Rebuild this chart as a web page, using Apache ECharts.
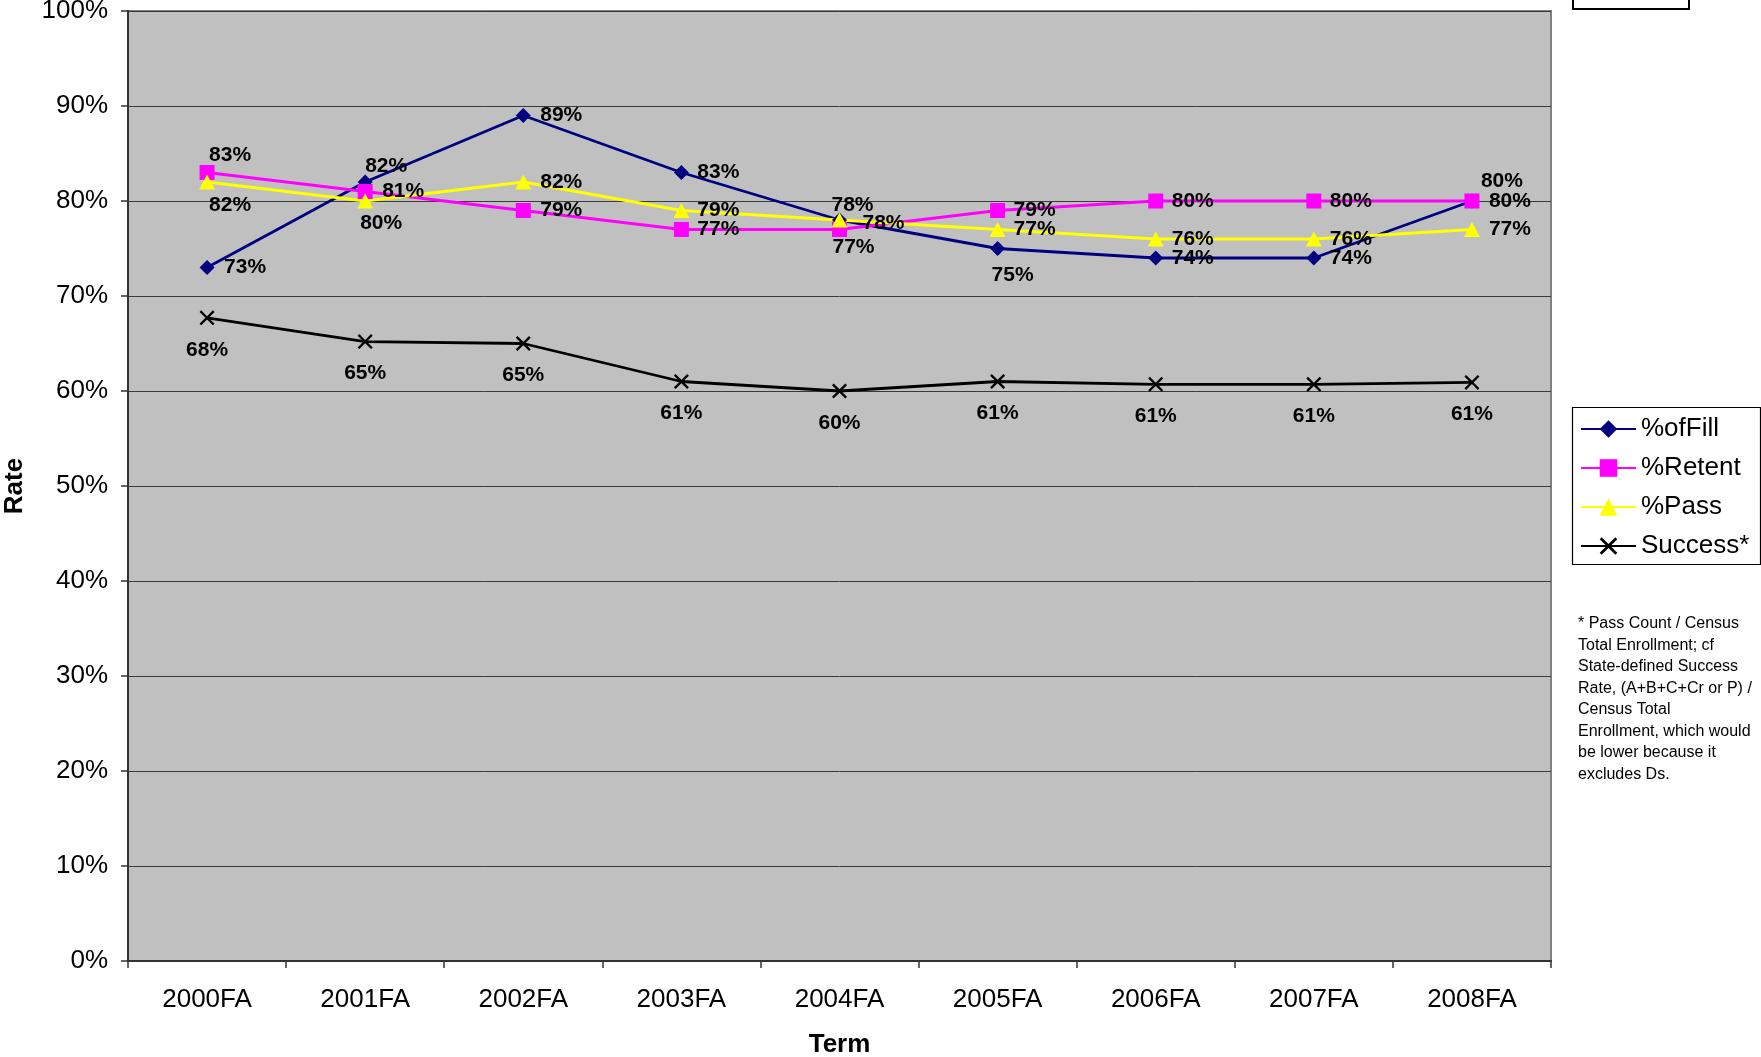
<!DOCTYPE html>
<html>
<head>
<meta charset="utf-8">
<script src="https://cdn.jsdelivr.net/npm/echarts@6/dist/echarts.min.js"></script>
<style>
html,body{margin:0;padding:0;background:#fff;}
#chart{width:1761px;height:1057px;}
</style>
</head>
<body>
<div id="chart"></div>
<script>
// ---- data ----
const categories = ['2000FA','2001FA','2002FA','2003FA','2004FA','2005FA','2006FA','2007FA','2008FA'];
const fillRate    = [73, 82, 89, 83, 78, 75, 74, 74, 80];
const retentRate  = [83, 81, 79, 77, 77, 79, 80, 80, 80];
const passRate    = [82, 80, 82, 79, 78, 77, 76, 76, 77];
const successRate = [67.7, 65.2, 65.0, 61.0, 60.0, 61.0, 60.7, 60.7, 60.9];
const seriesNames = ['%ofFill', '%Retent', '%Pass', 'Success*'];
const footnoteLines = [
  '* Pass Count / Census',
  'Total Enrollment; cf',
  'State-defined Success',
  'Rate, (A+B+C+Cr or P) /',
  'Census Total',
  'Enrollment, which would',
  'be lower because it',
  'excludes Ds.'
];

// ---- label placement (offsets of label centre from point, px) ----
const fillLabelOffsets    = [[38,0],[21,-16],[38,0],[37,0],[13,-15],[15,27],[37,0],[37,0],[30,-20]];
const retentLabelOffsets  = [[23,-17],[38,0],[38,0],[37,0],[14,18],[37,0],[37,0],[37,0],[38,0]];
const passLabelOffsets    = [[23,23],[16,22],[38,0],[37,0],[44,3],[37,0],[37,0],[37,0],[38,0]];
const successLabelOffsets = [[0,32],[0,32],[0,32],[0,32],[0,32],[0,32],[0,32],[0,32],[0,32]];

const FONT = 'Liberation Sans, Arial, Helvetica, sans-serif';
const crossPath = 'path://M0,1.1L1.1,0L5,3.9L8.9,0L10,1.1L6.1,5L10,8.9L8.9,10L5,6.1L1.1,10L0,8.9L3.9,5Z';

function build(values, offsets) {
  return values.map((v, i) => ({ value: v, label: { offset: offsets[i] } }));
}

const labelBase = {
  show: true,
  position: 'inside',
  color: '#000',
  fontFamily: FONT,
  fontSize: 21,
  fontWeight: 'bold',
  textBorderWidth: 0,
  formatter: p => Math.round(p.value) + '%'
};

function makeSeries(name, values, offsets, color, symbol, size) {
  return {
    name: name,
    type: 'line',
    data: build(values, offsets),
    symbol: symbol,
    symbolSize: size,
    showSymbol: true,
    showAllSymbol: true,
    lineStyle: { color: color, width: 2.8 },
    itemStyle: { color: color },
    label: labelBase,
    emphasis: { disabled: true }
  };
}

const chart = echarts.init(document.getElementById('chart'), null, { renderer: 'canvas' });

chart.setOption({
  animation: false,
  textStyle: { fontFamily: FONT },
  grid: {
    left: 128, right: 210, top: 11, bottom: 96,
    containLabel: false,
    outerBoundsMode: 'none',
    show: true,
    backgroundColor: '#c0c0c0',
    borderColor: '#808080',
    borderWidth: 2
  },
  xAxis: {
    type: 'category',
    data: categories,
    boundaryGap: true,
    name: 'Term',
    nameLocation: 'middle',
    nameGap: 71,
    nameTextStyle: { fontFamily: FONT, fontSize: 26, fontWeight: 'bold', color: '#000' },
    axisLine: { show: true, lineStyle: { color: '#333', width: 2 } },
    axisTick: { show: true, length: 7, lineStyle: { color: '#333', width: 1.5 } },
    axisLabel: { fontFamily: FONT, fontSize: 26, color: '#000', margin: 26 },
    splitLine: { show: false }
  },
  yAxis: {
    type: 'value',
    min: 0, max: 100, interval: 10,
    name: 'Rate',
    nameLocation: 'middle',
    nameGap: 100,
    nameRotate: 90,
    nameTextStyle: { fontFamily: FONT, fontSize: 26, fontWeight: 'bold', color: '#000' },
    axisLine: { show: true, lineStyle: { color: '#333', width: 2 } },
    axisTick: { show: true, length: 7, lineStyle: { color: '#333', width: 1.5 } },
    axisLabel: { fontFamily: FONT, fontSize: 26, color: '#000', margin: 20, formatter: '{value}%' },
    splitLine: { show: true, lineStyle: { color: '#3a3a3a', width: 1 } }
  },
  legend: {
    orient: 'vertical',
    left: 1580,
    top: 416,
    padding: 0,
    itemWidth: 55,
    itemHeight: 22,
    itemGap: 13,
    data: seriesNames,
    textStyle: { fontFamily: FONT, fontSize: 26, color: '#000', lineHeight: 26, padding: [0, 0, 0, 0] },
    selectedMode: false
  },
  graphic: [
    { type: 'rect', z: 100, shape: { x: 1573, y: -20, width: 116, height: 29 },
      style: { fill: '#fff', stroke: '#000', lineWidth: 2 } },
    { type: 'rect', z: -1, shape: { x: 1572.5, y: 407.5, width: 188, height: 157 },
      style: { fill: '#fff', stroke: '#000', lineWidth: 1.2 } },
    { type: 'text', z: 100, left: 1578, top: 613,
      style: { text: footnoteLines.join('\n'), fontFamily: FONT, fontSize: 16, lineHeight: 21.5, fill: '#000' } }
  ],
  series: [
    makeSeries(seriesNames[0], fillRate, fillLabelOffsets, '#000080', 'diamond', 15),
    makeSeries(seriesNames[1], retentRate, retentLabelOffsets, '#ff00ff', 'rect', 15),
    makeSeries(seriesNames[2], passRate, passLabelOffsets, '#ffff00', 'triangle', [16, 15]),
    makeSeries(seriesNames[3], successRate, successLabelOffsets, '#000000', crossPath, 15)
  ]
});
</script>
</body>
</html>
